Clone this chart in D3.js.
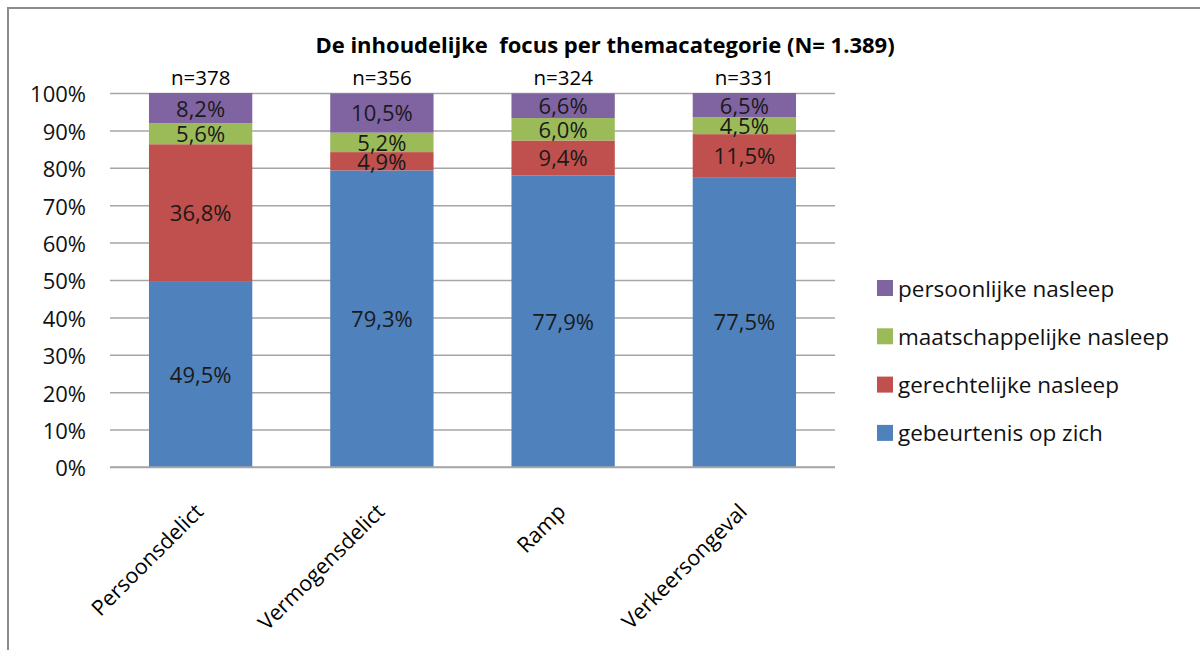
<!DOCTYPE html>
<html><head><meta charset="utf-8">
<script src="https://cdn.jsdelivr.net/npm/d3@7"></script>
<style>
body{margin:0;background:#fff;}
svg{display:block;font-family:"Open Sans", sans-serif;}
</style></head>
<body><svg id="chart" width="1200" height="650"></svg>
<script>
const title = "De inhoudelijke  focus per themacategorie (N= 1.389)";
const categories = ["Persoonsdelict","Vermogensdelict","Ramp","Verkeersongeval"];
const nLabels = ["n=378","n=356","n=324","n=331"];
const seriesNames = ["gebeurtenis op zich","gerechtelijke nasleep","maatschappelijke nasleep","persoonlijke nasleep"];
const gebeurtenis = [49.5,79.3,77.9,77.5];
const gerechtelijke = [36.8,4.9,9.4,11.5];
const maatschappelijke = [5.6,5.2,6.0,4.5];
const persoonlijke = [8.2,10.5,6.6,6.5];
const seriesColors = ["#4F81BD","#C0504D","#9BBB59","#8064A2"];
const yTicks = [0,10,20,30,40,50,60,70,80,90,100];

const FONT = '"Open Sans", sans-serif';
const seriesValues = [gebeurtenis, gerechtelijke, maatschappelijke, persoonlijke];
const rows = categories.map((c,i)=>{const r={cat:c}; seriesNames.forEach((s,j)=>r[s]=seriesValues[j][i]); return r;});
const stacked = d3.stack().keys(seriesNames)(rows);

const svg = d3.select("#chart");
svg.append("path").attr("d","M8,650 L8,8 L1200,8").attr("fill","none").attr("stroke","#8c8c8c").attr("stroke-width",2);

const L=110, R=835, T=93, B=467;
const x = d3.scaleBand().domain(categories).range([L,R]).paddingInner(0.43).paddingOuter(0.215);
const y = d3.scaleLinear().domain([0,100]).range([B,T]);

const yAxis = d3.axisLeft(y).tickValues(yTicks).tickSize(-(R-L)).tickFormat(d=>d+"%");
const ga = svg.append("g").attr("transform",`translate(${L},0)`).call(yAxis);
ga.select(".domain").remove();
ga.selectAll(".tick line").attr("stroke","#a6a6a6").attr("stroke-width",1.5);
ga.selectAll(".tick text").attr("x",-24).attr("dy","0.4em").attr("font-size",22).attr("fill","#111").attr("font-family",FONT);

const g = svg.append("g");
stacked.forEach((s,si)=>{
  g.selectAll(null).data(s).enter().append("rect")
    .attr("x",d=>x(d.data.cat)).attr("width",x.bandwidth())
    .attr("y",d=>y(Math.min(100,d[1]))).attr("height",d=>y(d[0])-y(Math.min(100,d[1])))
    .attr("fill",seriesColors[si]);
});
stacked.forEach((s,si)=>{
  g.selectAll(null).data(s).enter().append("text")
    .attr("x",d=>x(d.data.cat)+x.bandwidth()/2)
    .attr("y",d=>(y(d[0])+y(Math.min(100,d[1])))/2)
    .attr("dy","0.38em").attr("text-anchor","middle")
    .attr("font-size",22).attr("fill","#1a1a1a")
    .text(d=>(d[1]-d[0]).toFixed(1).replace(".",",")+"%");
});
svg.selectAll(null).data(categories).enter().append("text")
  .attr("x",d=>x(d)+x.bandwidth()/2).attr("y",85).attr("text-anchor","middle")
  .attr("font-size",20.5).attr("fill","#000").text((d,i)=>nLabels[i]);
svg.append("line").attr("x1",L).attr("x2",R).attr("y1",B).attr("y2",B).attr("stroke","#a6a6a6").attr("stroke-width",1.5);

const xAxis = d3.axisBottom(x).tickSize(0);
const gx = svg.append("g").attr("transform",`translate(0,${B})`).call(xAxis);
gx.select(".domain").remove();
gx.selectAll(".tick text").attr("font-size",21.5).attr("fill","#000").attr("font-family",FONT)
  .attr("text-anchor","end").attr("dy",0).attr("y",0)
  .attr("transform","translate(4,46) rotate(-45)");

svg.append("text").attr("x",605).attr("y",53).attr("text-anchor","middle")
  .attr("font-size",22).attr("font-weight","bold").attr("fill","#000")
  .style("white-space","pre").text(title);

const legendOrder = [3,2,1,0];
const lg = svg.append("g");
legendOrder.forEach((si,k)=>{
  const yy = 288 + k*48.3;
  lg.append("rect").attr("x",877).attr("y",yy-8).attr("width",16).attr("height",16).attr("fill",seriesColors[si]);
  lg.append("text").attr("x",898).attr("y",yy).attr("dy","0.38em").attr("font-size",22.5).attr("fill","#111").text(seriesNames[si]);
});
</script></body></html>
